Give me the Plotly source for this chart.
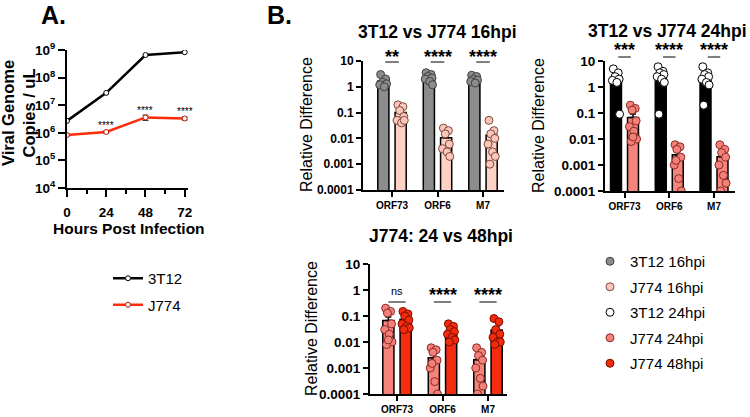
import numpy as np
import plotly.graph_objects as go

# ---------------- data ----------------
hours = [0, 24, 48, 72]
copies_3t12 = [2.7e6, 2.8e7, 6.6e8, 8.3e8]
copies_j774 = [8.3e5, 1.07e6, 3.6e6, 3.3e6]
err_j774 = [0.6e5, 1.0e5, 0.8e6, 0.4e6]
a_sig = ["****", "****", "****"]          # J774 at 24, 48, 72 h

genes = ["ORF73", "ORF6", "M7"]

t3t12_16hpi = [[3.0, 2.0, 1.5, 1.3, 1.2, 1.0],
               [3.5, 3.0, 2.5, 2.2, 2.0, 1.6, 1.2],
               [2.8, 2.5, 2.0, 1.8, 1.6, 1.4]]
j774_16hpi = [[0.2, 0.17, 0.12, 0.07, 0.05, 0.04, 0.05],
              [0.025, 0.02, 0.015, 0.006, 0.004, 0.003, 0.002],
              [0.05, 0.02, 0.015, 0.01, 0.006, 0.003, 0.002, 0.001]]
t3t12_24hpi = [[5.0, 3.5, 2.5, 2.0, 1.8, 1.5, 0.09],
               [6.0, 4.0, 3.5, 3.0, 2.5, 2.0, 1.5, 0.09],
               [6.0, 3.5, 3.0, 2.5, 2.0, 1.5, 1.2, 0.2]]
j774_24hpi = [[0.2, 0.15, 0.13, 0.05, 0.03, 0.02, 0.01, 0.008, 0.012],
              [0.006, 0.005, 0.004, 0.002, 0.001, 0.0003, 0.0001, 0.0015],
              [0.006, 0.004, 0.003, 0.002, 0.001, 0.0004, 0.0002, 0.0001]]
j774_48hpi = [[0.15, 0.12, 0.1, 0.07, 0.05, 0.04, 0.035, 0.03],
              [0.05, 0.04, 0.03, 0.025, 0.02, 0.015, 0.012, 0.01],
              [0.08, 0.06, 0.03, 0.02, 0.015, 0.01, 0.01, 0.008]]

sig_16 = ["**", "****", "****"]
sig_24 = ["***", "****", "****"]
sig_j774 = ["ns", "****", "****"]

log_ticks = [1e-4, 1e-3, 1e-2, 1e-1, 1, 10]
log_ticktext = ["0.0001", "0.001", "0.01", "0.1", "1", "10"]
a_ticks = [1e4, 1e5, 1e6, 1e7, 1e8, 1e9]
a_ticktext = ["10<sup>%d</sup>" % e for e in range(4, 10)]

# ---------------- layout helpers ----------------
W, H = 750, 417
FONT = "Liberation Sans, Arial, sans-serif"


def fx(p):
    return p / W


def fy(p):
    return 1 - p / H


JIT = [-0.06, 0.05, -0.02, 0.07, -0.08, 0.02, 0.08, -0.04, 0.0]

fig = go.Figure()

# ---------------- panel A ----------------
fig.add_trace(go.Scatter(
    x=hours, y=copies_3t12, mode="lines+markers", name="3T12",
    line=dict(color="black", width=2.5),
    marker=dict(color="white", size=5, line=dict(color="black", width=1)),
    xaxis="x", yaxis="y", legend="legend", legendgroup="a1"))
fig.add_trace(go.Scatter(
    x=hours, y=copies_j774, mode="lines+markers", name="J774",
    line=dict(color="#ff2a0a", width=2.5),
    marker=dict(color="white", size=5, line=dict(color="#c01000", width=1)),
    error_y=dict(type="data", array=err_j774, color="#333333", thickness=1, width=3),
    xaxis="x", yaxis="y", legend="legend", legendgroup="a2"))

annotations = []
shapes = []

for h, v, s in zip(hours[1:], copies_j774[1:], a_sig):
    annotations.append(dict(x=h, y=np.log10(v), xref="x", yref="y", text=s,
                            showarrow=False, yanchor="bottom", yshift=-1,
                            font=dict(family=FONT, size=10, color="black")))

# ---------------- panels B ----------------
panels = [
    dict(idx=2, series=[(t3t12_16hpi, "#8c8c8c", "#8c8c8c", "#404040", "3T12 16hpi", True),
                        (j774_16hpi, "#fdd1c6", "#fcc6b8", "#7a4a40", "J774 16hpi", True)],
         sig=sig_16, xpx=(363, 504), ypx=(190, 61), center0=392, step=45.5,
         star=63, line=62, half=0.15, tsize=12),
    dict(idx=3, series=[(t3t12_24hpi, "#000000", "#ffffff", "#000000", "3T12 24hpi", True),
                        (j774_24hpi, "#f5847b", "#f4807a", "#8b2b25", "J774 24hpi", True)],
         sig=sig_24, xpx=(605, 735), ypx=(191, 61), center0=624.5, step=44.75,
         star=56, line=57, half=0.14, tsize=13.5),
    dict(idx=4, series=[(j774_24hpi, "#f5847b", "#f4807a", "#8b2b25", "J774 24hpi", False),
                        (j774_48hpi, "#f52c0d", "#f42a0d", "#7a1000", "J774 48hpi", True)],
         sig=sig_j774, xpx=(370, 507), ypx=(394, 264), center0=397, step=45.5,
         star=301, line=302, half=0.19, tsize=13.5),
]

layout_axes = {}
for p in panels:
    i = p["idx"]
    xa, ya = "x%d" % i, "y%d" % i
    left = (p["xpx"][0] - p["center0"]) / p["step"]
    right = (p["xpx"][1] - p["center0"]) / p["step"]
    for k, (vals, barc, ptc, ptl, name, sl) in enumerate(p["series"]):
        off = -0.19 if k == 0 else 0.19
        means = [float(np.mean(v)) for v in vals]
        sems = [float(np.std(v, ddof=1) / np.sqrt(len(v))) for v in vals]
        fig.add_trace(go.Bar(
            x=[g + off for g in range(3)], y=means, width=0.245,
            marker=dict(color=barc, line=dict(color="black", width=1.5)),
            error_y=dict(type="data", array=sems, arrayminus=[0] * 3, symmetric=False,
                         color="black", thickness=1.5, width=3),
            xaxis=xa, yaxis=ya, showlegend=False, hoverinfo="skip"))
    for k, (vals, barc, ptc, ptl, name, sl) in enumerate(p["series"]):
        off = -0.19 if k == 0 else 0.19
        px_, py_ = [], []
        for g, v in enumerate(vals):
            for j, val in enumerate(v):
                px_.append(g + off + JIT[j % len(JIT)])
                py_.append(val)
        fig.add_trace(go.Scatter(
            x=px_, y=py_, mode="markers", name=name,
            marker=dict(color=ptc, size=8, line=dict(color=ptl, width=1)),
            xaxis=xa, yaxis=ya, showlegend=sl, legend="legend2",
            legendgroup=name))
    yb, yt = p["ypx"]
    layout_axes["xaxis%d" % i] = dict(
        domain=[fx(p["xpx"][0]), fx(p["xpx"][1])], range=[left, right],
        anchor=ya, tickvals=[0, 1, 2], ticktext=genes, automargin=False,
        showline=True, linecolor="black", linewidth=2, ticks="outside",
        ticklen=5, tickwidth=1.5, tickcolor="black", showgrid=False, zeroline=False,
        tickfont=dict(family=FONT, size=10, color="black", weight="bold"))
    layout_axes["yaxis%d" % i] = dict(
        domain=[fy(yb), fy(yt)], type="log", range=[-4, 1], anchor=xa,
        tickvals=log_ticks, ticktext=log_ticktext, automargin=False,
        showline=True, linecolor="black", linewidth=2, ticks="outside",
        ticklen=5, tickwidth=1.5, tickcolor="black", showgrid=False, zeroline=False,
        tickfont=dict(family=FONT, size=p["tsize"], color="black", weight="bold"))
    ydom_line = (yb - p["line"]) / (yb - yt)
    ydom_star = (yb - p["star"]) / (yb - yt)
    for g, s in enumerate(p["sig"]):
        shapes.append(dict(type="line", xref=xa, yref=ya + " domain",
                           x0=g - p["half"], x1=g + p["half"], y0=ydom_line, y1=ydom_line,
                           line=dict(color="black", width=1)))
        if s == "ns":
            annotations.append(dict(x=g, y=ydom_star, xref=xa, yref=ya + " domain",
                                    text=s, showarrow=False, yanchor="bottom", yshift=2,
                                    font=dict(family=FONT, size=11, color="black")))
        else:
            annotations.append(dict(x=g, y=ydom_star, xref=xa, yref=ya + " domain",
                                    text=s, showarrow=False, yanchor="bottom", yshift=-6,
                                    font=dict(family=FONT, size=18, color="black",
                                              weight="bold")))


# ---------------- text ----------------
def text(x, y, s, size, bold=True, angle=0):
    annotations.append(dict(x=fx(x), y=fy(y), xref="paper", yref="paper", text=s,
                            showarrow=False, xanchor="center", yanchor="middle",
                            textangle=angle,
                            font=dict(family=FONT, size=size, color="black",
                                      weight="bold" if bold else "normal")))


text(54, 15, "A.", 25)
text(279, 15, "B.", 25)
text(19, 113, "Viral Genome<br>Copies / uL", 16.5, angle=-90)
text(129, 228, "Hours Post Infection", 15.5)
text(437, 32, "3T12 vs J774 16hpi", 17.5)
text(667, 31, "3T12 vs J774 24hpi", 17.5)
text(441, 236, "J774: 24 vs 48hpi", 17.5)
text(306, 125, "Relative Difference", 16, bold=False, angle=-90)
text(538, 126, "Relative Difference", 16, bold=False, angle=-90)
text(311, 329, "Relative Difference", 16, bold=False, angle=-90)

fig.update_layout(
    template="none",
    width=W, height=H, margin=dict(l=0, r=0, t=0, b=0, autoexpand=False),
    paper_bgcolor="white", plot_bgcolor="white",
    font=dict(family=FONT, color="black"),
    barmode="overlay",
    xaxis=dict(domain=[fx(67), fx(188)], range=[0, 74], anchor="y", automargin=False,
               tickvals=hours, showline=True, linecolor="black", linewidth=2,
               ticks="outside", ticklen=7, tickwidth=1.5, tickcolor="black",
               minor=dict(tickvals=[12, 36, 60], ticks="outside", ticklen=4,
                          tickwidth=1.5, tickcolor="black"),
               showgrid=False, zeroline=False, ticklabelstandoff=4,
               tickfont=dict(family=FONT, size=13.5, color="black", weight="bold")),
    yaxis=dict(domain=[fy(188), fy(50)], type="log", range=[4, 9], anchor="x",
               automargin=False,
               tickvals=a_ticks, ticktext=a_ticktext, showline=True, linecolor="black",
               linewidth=2, ticks="outside", ticklen=7, tickwidth=1.5, tickcolor="black",
               showgrid=False, zeroline=False,
               tickfont=dict(family=FONT, size=13.5, color="black", weight="bold")),
    legend=dict(x=fx(108), y=fy(262), xanchor="left", yanchor="top",
                font=dict(family=FONT, size=15, color="black"),
                bgcolor="rgba(0,0,0,0)", tracegroupgap=4, itemwidth=30),
    legend2=dict(x=fx(590), y=fy(245), xanchor="left", yanchor="top",
                 font=dict(family=FONT, size=15, color="black"),
                 bgcolor="rgba(0,0,0,0)", tracegroupgap=3, itemwidth=30),
    annotations=annotations, shapes=shapes,
    **layout_axes,
)

fig.write_html("out.html", config={"displayModeBar": False},
               post_script="document.body.style.margin='0';")
